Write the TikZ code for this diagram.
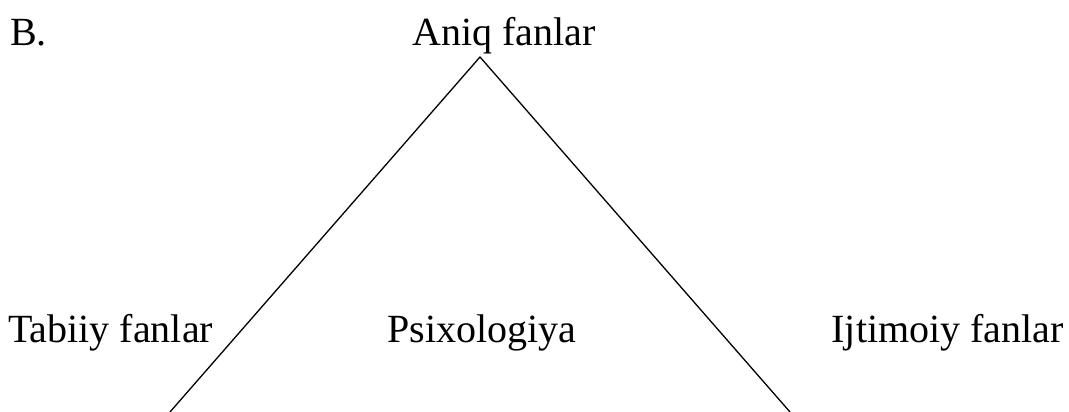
\documentclass[tikz,border=0pt]{standalone}
\usepackage{fontspec}
\setmainfont{Liberation Serif}
\usetikzlibrary{positioning}
\tikzset{
  lbl/.style={font=\fontsize{40}{48}\selectfont, inner sep=0pt},
  side/.style={line width=1.3pt, draw=black},
}
\begin{document}
\begin{tikzpicture}[x=1pt,y=-1pt]
  \useasboundingbox (0,0) rectangle (1069,412);
  % triangle corners
  \coordinate (apex) at (480,57);
  \coordinate (baseL) at (170,412);
  \coordinate (baseR) at (790,412);
  \draw[side] (baseL) -- (apex) -- (baseR);
  % labels
  \node[lbl, anchor=base west] (mark) at (10,46) {B.};
  \node[lbl, anchor=base west] (aniq) at (412,46) {Aniq fanlar};
  \node[lbl, anchor=base west] (tabiiy) at (8,342) {Tabiiy fanlar};
  \node[lbl, anchor=base] (psix) at (482,342) {Psixologiya};
  \node[lbl, anchor=base east] (ijtim) at (1064,342) {Ijtimoiy fanlar};
\end{tikzpicture}
\end{document}
